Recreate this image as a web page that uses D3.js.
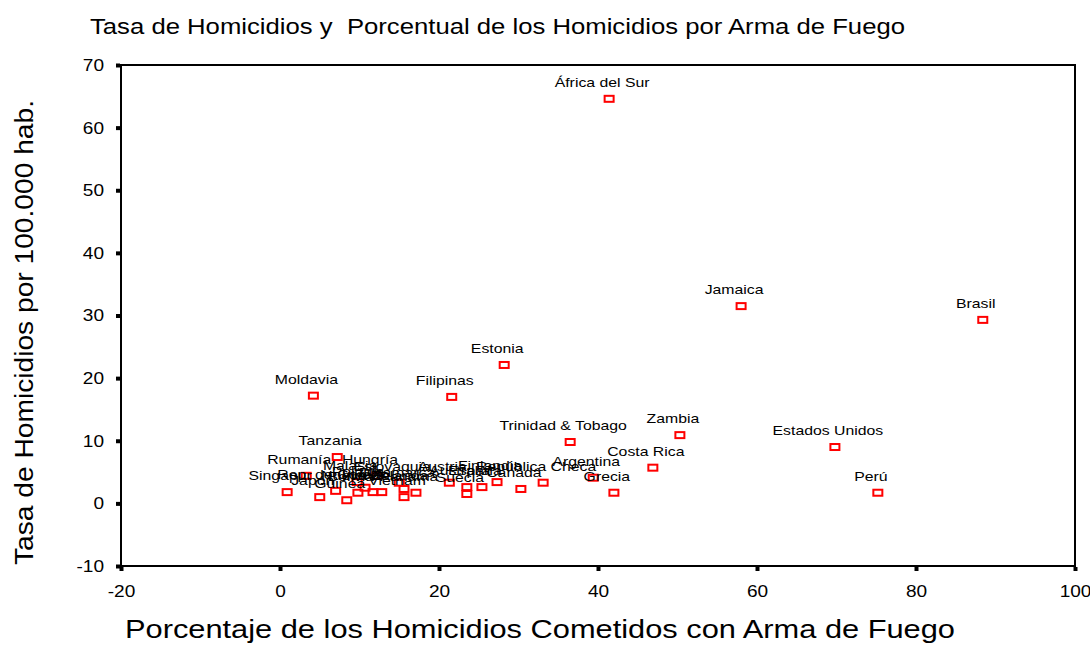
<!DOCTYPE html>
<html>
<head>
<meta charset="utf-8">
<script src="https://cdn.jsdelivr.net/npm/d3@7"></script>
<style>
  html, body { margin: 0; padding: 0; background: #fff; }
  svg { display: block; font-family: "Liberation Sans", Arial, sans-serif; }
</style>
</head>
<body>
<svg id="chart" width="1090" height="668"></svg>
<script>
// ---- data ----
const paises = ["África del Sur","Jamaica","Brasil","Estonia","Filipinas","Moldavia","Trinidad & Tobago","Zambia","Estados Unidos","Costa Rica","Perú","Grecia","Argentina","Tanzania","Rumanía","Hungría","Singapur","Japón","Rep. de Corea","Guinea","Malasia","Polonia","Bolivia","Irlanda","Nueva Zelanda","Eslovaquia","Dinamarca","Vietnam","Panamá","Austria","Australia","Suecia","España","Finlandia","Canadá","República Checa"];
const porcentajeArma = [41.4,58.0,88.4,28.2,21.6,4.2,36.5,50.3,69.8,46.9,75.2,42.0,39.4,7.2,3.3,12.2,0.9,5.0,7.0,8.4,9.7,10.7,9.8,11.7,12.8,15.0,15.6,15.6,17.1,21.3,23.5,23.5,25.4,27.3,30.3,33.1];
const tasaHomicidios = [64.6,31.5,29.3,22.1,17.0,17.2,9.8,10.9,9.0,5.7,1.7,1.7,4.1,7.4,4.4,4.4,1.8,1.0,2.0,0.5,3.4,2.5,1.7,1.8,1.8,3.3,2.3,1.0,1.7,3.3,2.6,1.5,2.6,3.4,2.3,3.3];
const xTicks = [-20,0,20,40,60,80,100];
const yTicks = [-10,0,10,20,30,40,50,60,70];
const titulo = "Tasa de Homicidios y  Porcentual de los Homicidios por Arma de Fuego";
const tituloX = "Porcentaje de los Homicidios Cometidos con Arma de Fuego";
const tituloY = "Tasa de Homicidios por 100.000 hab.";

// ---- drawing ----
const svg = d3.select("#chart");
const plot = {left: 121, right: 1075, top: 65, bottom: 566};
const x = d3.scaleLinear().domain([-20, 100]).range([plot.left, plot.right]);
const y = d3.scaleLinear().domain([-10, 70]).range([plot.bottom, plot.top]);

function stretch(sel, k) {
  sel.each(function() {
    const w = this.getComputedTextLength();
    d3.select(this).attr("textLength", w * k).attr("lengthAdjust", "spacingAndGlyphs");
  });
}

// frame
svg.append("rect")
  .attr("x", plot.left).attr("y", plot.top)
  .attr("width", plot.right - plot.left).attr("height", plot.bottom - plot.top)
  .attr("fill", "none").attr("stroke", "#000").attr("stroke-width", 2);

// axes
const fmt = d => String(d);
const yAxis = svg.append("g").attr("transform", `translate(${plot.left - 1},0)`)
  .call(d3.axisLeft(y).tickValues(yTicks).tickSize(4).tickPadding(12).tickFormat(fmt));
const xAxis = svg.append("g").attr("transform", `translate(0,${plot.bottom + 1})`)
  .call(d3.axisBottom(x).tickValues(xTicks).tickSize(4).tickPadding(11).tickFormat(fmt));
[yAxis, xAxis].forEach(a => {
  a.select(".domain").remove();
  a.selectAll(".tick line").attr("stroke", "#000").attr("stroke-width", 4);
  a.selectAll(".tick text").attr("fill", "#000").attr("font-size", 17)
    .attr("font-family", "Liberation Sans, Arial, sans-serif");
});
xAxis.selectAll(".tick text").attr("dy", "0.9em");
stretch(yAxis.selectAll(".tick text"), 1.12);
stretch(xAxis.selectAll(".tick text"), 1.12);

// points
const data = paises.map((p, i) => ({pais: p, px: porcentajeArma[i], ty: tasaHomicidios[i]}));
const g = svg.append("g");
g.selectAll("rect.pt").data(data).join("rect")
  .attr("class", "pt")
  .attr("x", d => x(d.px) - 4.5).attr("y", d => y(d.ty) - 3)
  .attr("width", 9).attr("height", 6)
  .attr("fill", "none").attr("stroke", "#ff0000").attr("stroke-width", 2);

const lbl = g.selectAll("text.lbl").data(data).join("text")
  .attr("class", "lbl")
  .attr("x", d => x(d.px) - 7).attr("y", d => y(d.ty) - 12)
  .attr("text-anchor", "middle").attr("font-size", 13.5).attr("fill", "#000")
  .text(d => d.pais);
stretch(lbl, 1.17);

// titles
svg.append("text").attr("x", 90).attr("y", 34).attr("font-size", 22).attr("fill", "#000")
  .style("white-space", "pre")
  .attr("textLength", 815).attr("lengthAdjust", "spacingAndGlyphs").text(titulo);
svg.append("text").attr("x", 125).attr("y", 638).attr("font-size", 26).attr("fill", "#000")
  .attr("textLength", 830).attr("lengthAdjust", "spacingAndGlyphs").text(tituloX);
svg.append("text").attr("transform", "translate(33,565) rotate(-90)").attr("x", 0).attr("y", 0)
  .attr("font-size", 26).attr("fill", "#000")
  .attr("textLength", 465).attr("lengthAdjust", "spacingAndGlyphs").text(tituloY);
</script>
</body>
</html>
